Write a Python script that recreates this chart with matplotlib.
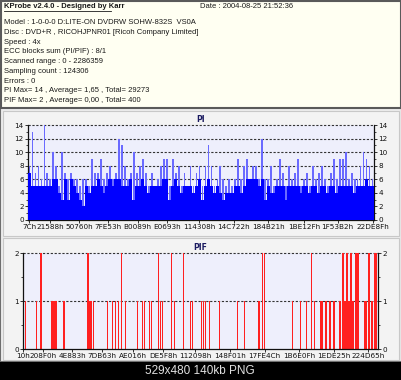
import numpy as np
import matplotlib
matplotlib.use("Agg")
import matplotlib.pyplot as plt
from matplotlib.patches import Rectangle
from matplotlib.lines import Line2D
from matplotlib.ticker import MultipleLocator

W, H = 402, 380

# header text
title = "KProbe v2.4.0 - Designed by Karr"
date = "Date : 2004-08-25 21:52:36"
info_lines = [
    "Model : 1-0-0-0 D:LITE-ON DVDRW SOHW-832S  VS0A",
    "Disc : DVD+R , RICOHJPNR01 [Ricoh Company Limited]",
    "Speed : 4x",
    "ECC blocks sum (PI/PIF) : 8/1",
    "Scanned range : 0 - 2286359",
    "Sampling count : 124306",
    "Errors : 0",
    "PI Max= 14 , Average= 1,65 , Total= 29273",
    "PIF Max= 2 , Average= 0,00 , Total= 400",
]

# PI chart: per bin base level (solid) and peak level (spikes)
pi_start, pi_end = 124, 2285199
pi_lo = [7, 5, 5, 5, 5, 5, 5, 5, 6, 6, 4, 3, 6, 3, 6, 5, 4, 3, 2, 5,
         4, 5, 5, 6, 5, 4, 5, 6, 5, 6, 6, 5, 5, 5, 6, 3, 5, 5, 6, 5,
         4, 5, 5, 5, 5, 6, 6, 3, 5, 6, 5, 4, 5, 5, 5, 4, 5, 6, 3, 5,
         6, 5, 4, 5, 4, 3, 4, 4, 4, 5, 5, 4, 5, 6, 6, 6, 6, 5, 6, 3,
         5, 4, 4, 5, 5, 5, 3, 5, 5, 5, 5, 4, 5, 5, 4, 5, 5, 4, 5, 5,
         4, 5, 5, 4, 5, 5, 5, 5, 5, 4, 5, 5, 5, 6, 5, 5]
pi_hi = [8, 13, 7, 8, 6, 14, 7, 6, 10, 8, 5, 10, 7, 6, 7, 6, 6, 5, 6, 6,
         5, 9, 7, 7, 9, 6, 7, 8, 6, 7, 12, 11, 8, 6, 7, 10, 7, 8, 9, 7,
         5, 7, 5, 6, 8, 9, 9, 5, 9, 7, 8, 5, 7, 5, 8, 5, 7, 8, 5, 8,
         11, 8, 5, 6, 8, 6, 5, 6, 5, 6, 9, 6, 8, 9, 6, 8, 8, 6, 12, 6,
         6, 8, 5, 6, 9, 7, 5, 8, 6, 7, 9, 5, 6, 7, 5, 8, 6, 7, 8, 6,
         5, 7, 9, 6, 9, 9, 10, 6, 7, 6, 6, 8, 10, 9, 8, 6]
pi_ticks = [0x7C, 0x21588, 0x50760, 0x7FE53, 0xB0089, 0xE0693,
            0x114308, 0x14C722, 0x184B21, 0x1BE12F, 0x1F53B2, 0x22DE8F]
pi_labels = ["7Ch", "21588h", "50760h", "7FE53h", "B0089h", "E0693h",
             "114308h", "14C722h", "184B21h", "1BE12Fh", "1F53B2h", "22DE8Fh"]

# PIF chart: LBA of each error and its count
pif_pos = [16220, 87600, 116800, 188200, 201200, 214100, 266000, 421800,
           434800, 447700, 460700, 551600, 584000, 603500, 622900, 642400,
           668400, 746200, 778700, 791700, 824100, 837100, 882500, 895500,
           908500, 966900, 986300, 1044700, 1090200, 1103100, 1161500,
           1174500, 1187500, 1213400, 1278300, 1395100, 1440600, 1534600,
           1557400, 1570300, 1752000, 1803900, 1842900, 1875300, 1894800,
           1940200, 1949900, 1972700, 1998600, 2024600, 2063500, 2083000,
           2096000, 2108900, 2121900, 2134900, 2147900, 2167300, 2180300,
           2225700, 2235500, 2251700, 2271200, 2290600, 2300300]
pif_val = [1, 1, 2, 1, 1, 1, 1, 2, 1, 1, 1, 1, 1, 1, 1, 2, 1, 1, 1, 1,
           1, 1, 2, 1, 1, 2, 1, 2, 1, 1, 1, 1, 1, 1, 1, 1, 1, 1, 2, 2,
           1, 1, 1, 2, 1, 1, 1, 1, 1, 1, 1, 2, 1, 2, 1, 2, 1, 2, 2, 1,
           1, 2, 1, 2, 2]
pif_start, pif_end = 16, 2310000
pif_ticks = [0x10, 0x208F0, 0x4E883, 0x7DB63, 0xAE016, 0xDE5F8,
             0x112098, 0x148F01, 0x17FE4C, 0x1B6E0F, 0x1EDE25, 0x224D65]
pif_labels = ["10h", "208F0h", "4E883h", "7DB63h", "AE016h", "DE5F8h",
              "112098h", "148F01h", "17FE4Ch", "1B6E0Fh", "1EDE25h", "224D65h"]


def box(x0, y0, x1, y1):
    # pixel box (top-left origin) -> figure fraction [l, b, w, h]
    return [x0 / W, 1 - y1 / H, (x1 - x0) / W, (y1 - y0) / H]


def fy(y):
    return 1 - y / H


def panel(x0, y0, x1, y1, **kw):
    l, b, w, h = box(x0, y0, x1, y1)
    fig.add_artist(Rectangle((l, b), w, h, transform=fig.transFigure, zorder=-10, **kw))


fig = plt.figure(figsize=(W / 100, H / 100), dpi=100)
fig.patch.set_facecolor("#ECECEC")

# background panels
panel(0, 0, 402, 362, facecolor="#ECECEC", edgecolor="#6E6E6E", lw=1.5)
panel(1, 1, 401, 108, facecolor="#FFFFF2", edgecolor="#5A5A5A", lw=1.5)
panel(3, 111, 399, 236, facecolor="#F3F3F3", edgecolor="#C8C8C8", lw=0.8)
panel(3, 238, 399, 360, facecolor="#F3F3F3", edgecolor="#C8C8C8", lw=0.8)
panel(0, 362, 402, 380, facecolor="black", edgecolor="none")

# header text
hfont = dict(family="Liberation Sans", fontsize=5.5, color="#1A1A1A")
fig.text(4 / W, fy(7), title, va="center", ha="left", fontweight="bold", **hfont)
fig.add_artist(Line2D([4 / W, 111 / W], [fy(10.5), fy(10.5)], color="#1A1A1A", lw=0.6))
fig.text(200 / W, fy(7), date, va="center", ha="left", **hfont)
for i, line in enumerate(info_lines):
    fig.text(4 / W, fy(22.7 + 9.75 * i), line, va="center", ha="left", **hfont)

fig.text(200 / W, fy(371), "529x480 140kb PNG", ha="center", va="center",
         family="Liberation Sans", fontsize=8.5, color="#E0E0E0")


def style_axes(ax, ymax, major, minor, xticks, xlabels):
    ax.set_facecolor("#EEEFFC")
    ax.set_ylim(0, ymax)
    ax.yaxis.set_major_locator(MultipleLocator(major))
    ax.yaxis.set_minor_locator(MultipleLocator(minor))
    ax.set_xticks(xticks)
    ax.set_xticklabels(xlabels)
    ax.tick_params(axis="both", which="major", labelsize=5.2, length=2, width=0.6,
                   pad=1, colors="#111111")
    ax.tick_params(axis="y", which="both", right=True, labelright=True, direction="out")
    ax.tick_params(axis="y", which="minor", length=1.2, width=0.5)
    ax.spines["top"].set_visible(False)
    for s in ["left", "right", "bottom"]:
        ax.spines[s].set_linewidth(0.9)
        ax.spines[s].set_color("#111111")
    for lv in np.arange(major, ymax + 0.01, major):
        ax.axhline(lv, color="#333333", lw=0.8, ls=(0, (2, 1.5)), zorder=1, clip_on=False)


# PI
ax1 = fig.add_axes(box(28, 125, 374, 220))
n = len(pi_lo)
centers = np.linspace(pi_start, pi_end, n)
step = centers[1] - centers[0]
ax1.bar(centers, pi_hi, width=step * 0.6, color="#6A6AFF", linewidth=0, zorder=2)
ax1.bar(centers, pi_lo, width=step * 1.05, color="#0000FF", linewidth=0, zorder=3)
ax1.set_xlim(pi_start - step / 2, pi_end + step / 2)
style_axes(ax1, 14, 2, 1, pi_ticks, pi_labels)
ax1.set_title("PI", fontsize=5.5, fontweight="bold", color="#1A1A60", pad=2)

# PIF
ax2 = fig.add_axes(box(23, 253, 378, 349))
ax2.bar(pif_pos, pif_val, width=9000, color="#FF2020", linewidth=0, zorder=2)
ax2.set_xlim(pif_start, pif_end)
style_axes(ax2, 2, 1, 0.5, pif_ticks, pif_labels)
ax2.set_title("PIF", fontsize=5.5, fontweight="bold", color="#1A1A60", pad=2)

fig.savefig("out.png", dpi=100, facecolor=fig.get_facecolor())
